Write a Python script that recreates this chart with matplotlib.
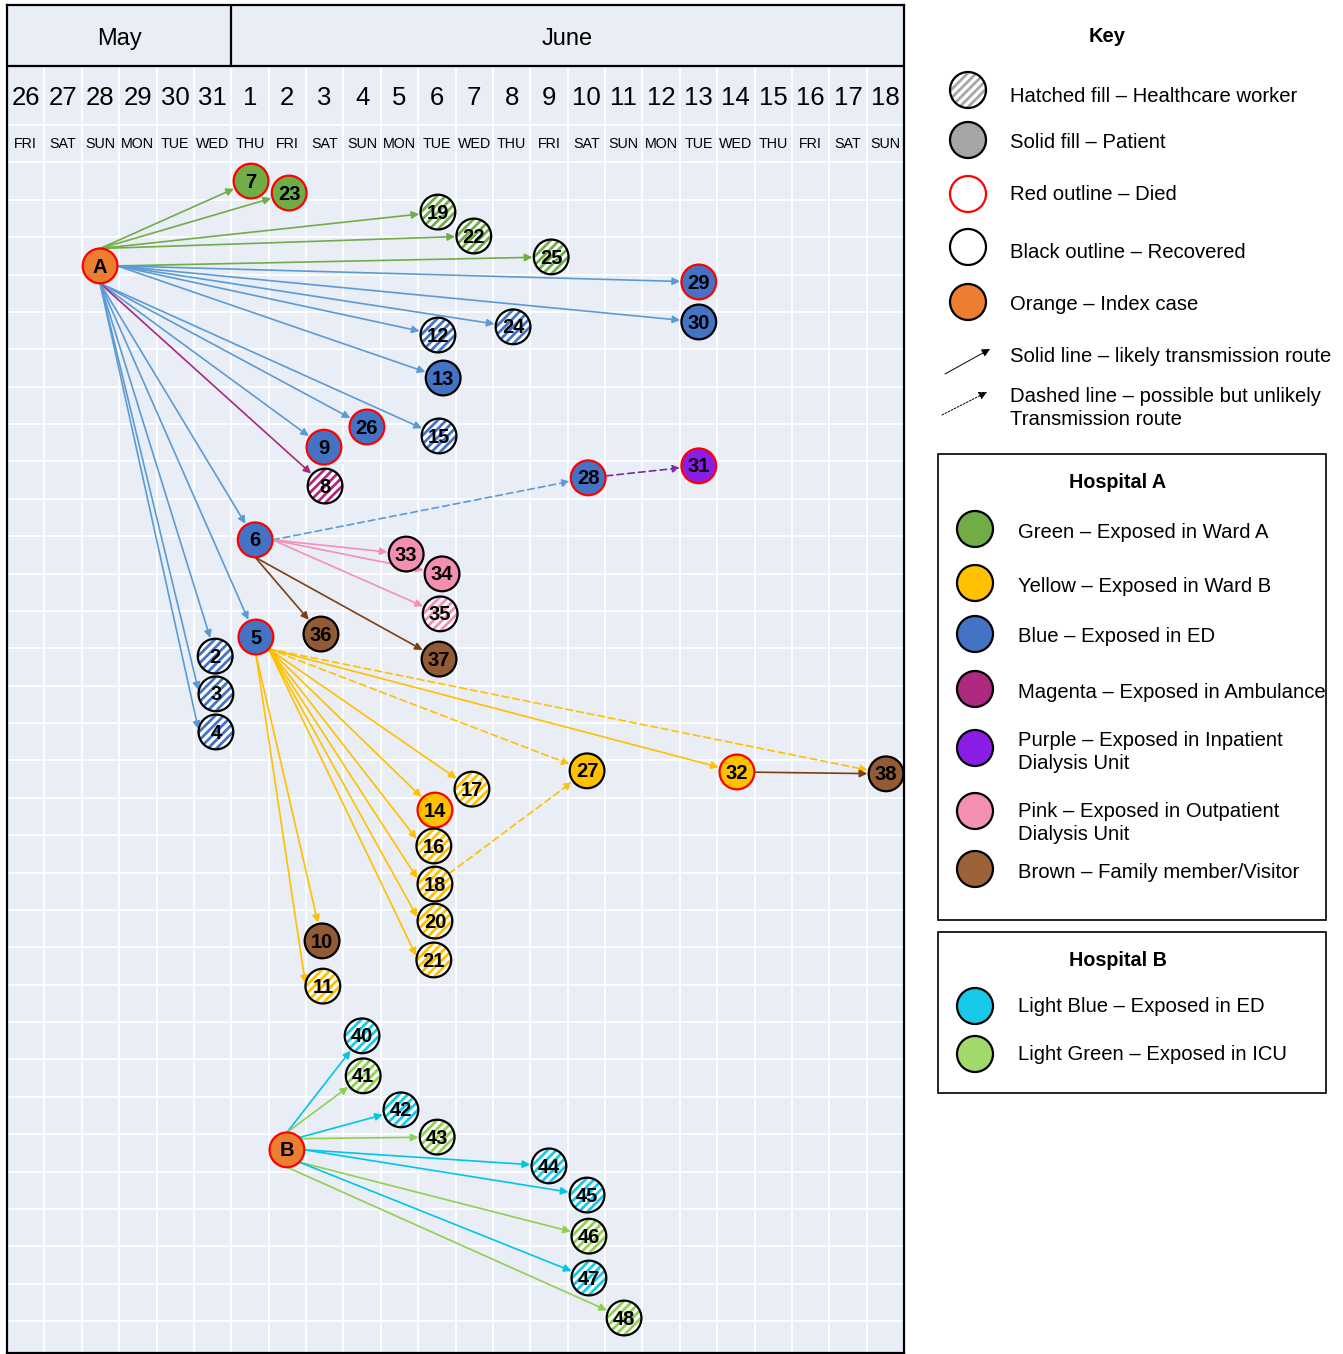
import numpy as np
import matplotlib
matplotlib.use("Agg")
import matplotlib.pyplot as plt
from matplotlib.patches import Circle, Rectangle

plt.rcParams['font.family'] = ['Liberation Sans', 'DejaVu Sans']

# calendar
day_nums = [26, 27, 28, 29, 30, 31] + list(range(1, 19))
weekdays = ['FRI', 'SAT', 'SUN', 'MON', 'TUE', 'WED', 'THU'] * 4
weekdays = weekdays[:24]
months = ['May', 'June']
month_days = [6, 18]

# colours
col = {
    'green': '#70ad47', 'yellow': '#ffc000', 'blue': '#4472c4',
    'magenta': '#ab2b7f', 'purple': '#8a1ee6', 'pink': '#f48fb1',
    'brown': '#935b34', 'orange': '#ed7d31', 'lblue': '#16c9e8',
    'lgreen': '#92d050', 'grey': '#a6a6a6',
}
line_col = {
    'green': '#70ad47', 'blue': '#5b9bd5', 'magenta': '#a8277f',
    'yellow': '#ffc000', 'pink': '#f490b4', 'brown': '#7b3f12',
    'lblue': '#00c6e6', 'lgreen': '#8fd14f', 'purple': '#7030a0',
}

# nodes: label, day index (0 = 26 May), row, colour, hatched, died
node_ids = ['A', '7', '23', '19', '22', '25', '29', '30', '12', '24', '13', '15',
            '26', '9', '8', '28', '31', '6', '33', '34', '35', '36', '37', '5',
            '2', '3', '4', '17', '27', '32', '38', '14', '16', '18', '20', '21',
            '10', '11', 'B', '40', '41', '42', '43', '44', '45', '46', '47', '48']
node_day = [1.99, 6.03, 7.05, 11.03, 11.99, 14.06, 18.01, 18.01, 11.03, 13.04, 11.17, 11.06,
            9.13, 7.98, 8.01, 15.05, 18.01, 6.14, 10.18, 11.14, 11.09, 7.90, 11.06, 6.16,
            5.07, 5.09, 5.09, 11.94, 15.02, 19.03, 23.02, 10.95, 10.92, 10.95, 10.95, 10.92,
            7.93, 7.95, 6.99, 9.00, 9.03, 10.04, 11.01, 14.00, 15.02, 15.07, 15.07, 16.01]
node_row = [3.77, 1.50, 1.82, 2.33, 2.97, 3.53, 4.20, 5.27, 5.62, 5.40, 6.77, 8.32,
            8.08, 8.62, 9.66, 9.44, 9.12, 11.10, 11.48, 12.01, 13.08, 13.62, 14.29, 13.70,
            14.21, 15.22, 16.24, 17.77, 17.28, 17.31, 17.36, 18.33, 19.29, 20.31, 21.30, 22.34,
            21.83, 23.04, 27.42, 24.37, 25.44, 26.35, 27.08, 27.85, 28.63, 29.73, 30.85, 31.92]
node_col = ['orange', 'green', 'green', 'green', 'green', 'green', 'blue', 'blue', 'blue', 'blue', 'blue', 'blue',
            'blue', 'blue', 'magenta', 'blue', 'purple', 'blue', 'pink', 'pink', 'pink', 'brown', 'brown', 'blue',
            'blue', 'blue', 'blue', 'yellow', 'yellow', 'yellow', 'brown', 'yellow', 'yellow', 'yellow', 'yellow', 'yellow',
            'brown', 'yellow', 'orange', 'lblue', 'lgreen', 'lblue', 'lgreen', 'lblue', 'lblue', 'lgreen', 'lblue', 'lgreen']
node_hatch = [0, 0, 0, 1, 1, 1, 0, 0, 1, 1, 0, 1,
              0, 0, 1, 0, 0, 0, 0, 0, 1, 0, 0, 0,
              1, 1, 1, 1, 0, 0, 0, 0, 1, 1, 1, 1,
              0, 1, 0, 1, 1, 1, 1, 1, 1, 1, 1, 1]
node_died = [1, 1, 1, 0, 0, 0, 1, 0, 0, 0, 0, 0,
             1, 1, 0, 1, 1, 1, 0, 0, 0, 0, 0, 1,
             0, 0, 0, 0, 0, 1, 0, 1, 0, 0, 0, 0,
             0, 0, 1, 0, 0, 0, 0, 0, 0, 0, 0, 0]

# transmission routes: source, target, colour, dashed,
# exit angle on source, entry angle on target (None = straight centre to centre)
edges = [
    ('A', '7', 'green', 0, 90, None), ('A', '23', 'green', 0, 90, None),
    ('A', '19', 'green', 0, 90, None), ('A', '22', 'green', 0, 90, None),
    ('A', '25', 'green', 0, 0, None),
    ('A', '29', 'blue', 0, 0, None), ('A', '30', 'blue', 0, 0, None), ('A', '24', 'blue', 0, 0, None),
    ('A', '12', 'blue', 0, 0, None), ('A', '13', 'blue', 0, 0, None), ('A', '15', 'blue', 0, -90, None),
    ('A', '26', 'blue', 0, -90, None), ('A', '9', 'blue', 0, -90, None), ('A', '8', 'magenta', 0, -90, None),
    ('A', '6', 'blue', 0, -90, None), ('A', '5', 'blue', 0, -90, None), ('A', '2', 'blue', 0, -90, 105),
    ('A', '3', 'blue', 0, -90, 172), ('A', '4', 'blue', 0, -90, 175),
    ('6', '28', 'blue', 1, 0, None), ('28', '31', 'purple', 1, None, None),
    ('6', '33', 'pink', 0, 0, None), ('6', '34', 'pink', 0, 0, None), ('6', '35', 'pink', 0, 0, None),
    ('6', '36', 'brown', 0, -90, None), ('6', '37', 'brown', 0, -90, None),
    ('5', '17', 'yellow', 0, -43, None), ('5', '14', 'yellow', 0, -43, None),
    ('5', '16', 'yellow', 0, -43, 160), ('5', '18', 'yellow', 0, -43, 165),
    ('5', '20', 'yellow', 0, -43, 170), ('5', '21', 'yellow', 0, -43, 170),
    ('5', '10', 'yellow', 0, -90, None), ('5', '11', 'yellow', 0, -90, 175),
    ('5', '27', 'yellow', 1, -43, None),
    ('5', '32', 'yellow', 0, -43, None), ('5', '38', 'yellow', 1, -43, None),
    ('18', '27', 'yellow', 1, None, None),
    ('32', '38', 'brown', 0, None, None),
    ('B', '40', 'lblue', 0, 90, None), ('B', '41', 'lgreen', 0, 90, None), ('B', '42', 'lblue', 0, 45, None),
    ('B', '43', 'lgreen', 0, 40, None), ('B', '44', 'lblue', 0, 0, None), ('B', '45', 'lblue', 0, 0, None),
    ('B', '46', 'lgreen', 0, -45, None), ('B', '47', 'lblue', 0, -45, None), ('B', '48', 'lgreen', 0, -90, None),
]

# key
key_labels = ['Hatched fill – Healthcare worker', 'Solid fill – Patient', 'Red outline – Died',
              'Black outline – Recovered', 'Orange – Index case']
key_face = [col['grey'], col['grey'], 'white', 'white', col['orange']]
key_hatch = [1, 0, 0, 0, 0]
key_edge = ['black', 'black', 'red', 'black', 'black']
hospA_labels = ['Green – Exposed in Ward A', 'Yellow – Exposed in Ward B', 'Blue – Exposed in ED',
                'Magenta – Exposed in Ambulance', 'Purple – Exposed in Inpatient\nDialysis Unit',
                'Pink – Exposed in Outpatient\nDialysis Unit', 'Brown – Family member/Visitor']
hospA_cols = ['#70ad47', '#ffc000', '#4472c4', '#ae2a80', '#8a1ee6', '#f590b5', '#9c623a']
hospB_labels = ['Light Blue – Exposed in ED', 'Light Green – Exposed in ICU']
hospB_cols = ['#16c9e8', '#a1d96a']

W, H = 1343, 1354
fig = plt.figure(figsize=(W / 100, H / 100), dpi=100)
bg = '#e9edf6'


def striped_circle(axis, xy, radius, color, step, lw, z):
    # white disc with diagonal stripes clipped to it
    disc = Circle(xy, radius, facecolor='white', lw=0, zorder=z)
    axis.add_patch(disc)
    for k in np.arange(-6, 7) * step:
        ln, = axis.plot([xy[0] + k - 2 * radius, xy[0] + k + 2 * radius],
                        [xy[1] + 2 * radius, xy[1] - 2 * radius],
                        color=color, lw=lw, zorder=z, solid_capstyle='butt')
        ln.set_clip_path(disc)


# ---- timeline panel
x0, x1, y0, y1 = 7, 904, 5, 1353
ax = fig.add_axes([x0 / W, 1 - y1 / H, (x1 - x0) / W, (y1 - y0) / H])
n = len(day_nums)
cw = (x1 - x0) / n
ax.set_xlim(-0.5, n - 0.5)
ax.set_ylim((y1 - 125) / cw, (y0 - 125) / cw)
top = (y0 - 125) / cw
bot = (y1 - 125) / cw
hdr = (66 - 125) / cw
ax.set_facecolor(bg)
ax.set_xticks([])
ax.set_yticks([])
for s in ax.spines.values():
    s.set_linewidth(1.6)
    s.set_color('black')

for i in range(n + 1):
    ax.plot([i - 0.5, i - 0.5], [hdr, bot], color='white', lw=1.3, zorder=1)
r = 0
while r < bot:
    ax.plot([-0.5, n - 0.5], [r, r], color='white', lw=1.3, zorder=1)
    r += 1
ax.axhline(hdr, color='black', lw=1.6, zorder=2)
start = -0.5
for m, k in zip(months, month_days):
    ax.text(start + k / 2, (top + hdr) / 2 + 0.09, m, ha='center', va='center', fontsize=17)
    start += k
    if start < n - 0.5:
        ax.plot([start, start], [top, hdr], color='black', lw=1.6, zorder=2)
for i in range(n):
    ax.text(i, hdr / 2 + 0.07, str(day_nums[i]), ha='center', va='center', fontsize=18.5)
    ax.text(i, 0.5, weekdays[i], ha='center', va='center', fontsize=10.3)

rad = 0.465
pos = {}
for nid, d, rw, c, h, died in zip(node_ids, node_day, node_row, node_col, node_hatch, node_died):
    pos[nid] = (d, rw)
    if h:
        striped_circle(ax, (d, rw), rad, col[c], 8.5 / cw, 2.0, 5)
    else:
        ax.add_patch(Circle((d, rw), rad, facecolor=col[c], lw=0, zorder=5))
    ax.add_patch(Circle((d, rw), rad, fill=False, edgecolor='red' if died else 'black',
                        lw=1.6, zorder=6))
    ax.text(d, rw + 0.03, nid, ha='center', va='center', fontsize=14.5,
            fontweight='bold', zorder=7)


def port(xy, ang):
    a = np.deg2rad(ang)
    return (xy[0] + rad * np.cos(a), xy[1] - rad * np.sin(a))


for s, t, c, dashed, a_out, a_in in edges:
    src, shA = (pos[s], 13) if a_out is None else (port(pos[s], a_out), 0)
    dst, shB = (pos[t], 13.5) if a_in is None else (port(pos[t], a_in), 1)
    ax.annotate('', xy=dst, xytext=src, zorder=3,
                arrowprops=dict(arrowstyle='-|>', color=line_col[c], lw=1.2,
                                linestyle=(0, (4, 2.5)) if dashed else '-',
                                shrinkA=shA, shrinkB=shB, mutation_scale=11))

# ---- key panel
kx0 = 905
ax2 = fig.add_axes([kx0 / W, 0, (W - kx0) / W, 1])
ax2.set_xlim(kx0, W)
ax2.set_ylim(H, 0)
ax2.axis('off')
kr = 18
fs = 14.6

ax2.text(1107, 36, 'Key', ha='center', va='center', fontsize=14.5, fontweight='bold')
key_y = [90, 140, 194, 247, 302]
key_ty = [96, 143, 195, 252, 304]
for lab, fc, h, ec, yy, ty in zip(key_labels, key_face, key_hatch, key_edge, key_y, key_ty):
    if h:
        striped_circle(ax2, (968, yy), kr, fc, 8.5, 2.0, 2)
    else:
        ax2.add_patch(Circle((968, yy), kr, facecolor=fc, lw=0))
    ax2.add_patch(Circle((968, yy), kr, fill=False, edgecolor=ec, lw=1.6, zorder=3))
    ax2.text(1010, ty, lab, ha='left', va='center', fontsize=fs)

ax2.annotate('', xy=(990, 349), xytext=(945, 374),
             arrowprops=dict(arrowstyle='-|>', color='black', lw=0.7, mutation_scale=12,
                             shrinkA=0, shrinkB=0))
ax2.text(1010, 357, 'Solid line – likely transmission route', ha='left', va='center', fontsize=fs)
ax2.annotate('', xy=(987, 392), xytext=(942, 415),
             arrowprops=dict(arrowstyle='-|>', color='black', lw=0.7, mutation_scale=12,
                             linestyle=(0, (2, 1.5)), shrinkA=0, shrinkB=0))
ax2.text(1010, 408, 'Dashed line – possible but unlikely\nTransmission route', ha='left',
         va='center', fontsize=fs, linespacing=1.25)

ax2.add_patch(Rectangle((938, 454), 388, 466, fill=False, edgecolor='black', lw=1.2))
ax2.text(1118, 482, 'Hospital A', ha='center', va='center', fontsize=14.2, fontweight='bold')
hA_y = [529, 583, 634, 689, 748, 811, 869]
hA_ty = [533, 586, 637, 692, 752, 823, 872]
for lab, c, yy, ty in zip(hospA_labels, hospA_cols, hA_y, hA_ty):
    ax2.add_patch(Circle((975, yy), kr, facecolor=c, edgecolor='black', lw=1.6))
    ax2.text(1018, ty, lab, ha='left', va='center', fontsize=fs, linespacing=1.25)

ax2.add_patch(Rectangle((938, 932), 388, 161, fill=False, edgecolor='black', lw=1.2))
ax2.text(1118, 960, 'Hospital B', ha='center', va='center', fontsize=14.2, fontweight='bold')
hB_y = [1006, 1054]
for lab, c, yy in zip(hospB_labels, hospB_cols, hB_y):
    ax2.add_patch(Circle((975, yy), kr, facecolor=c, edgecolor='black', lw=1.6))
    ax2.text(1018, yy + 1, lab, ha='left', va='center', fontsize=fs)

fig.savefig('out.png', dpi=100, facecolor='white')
